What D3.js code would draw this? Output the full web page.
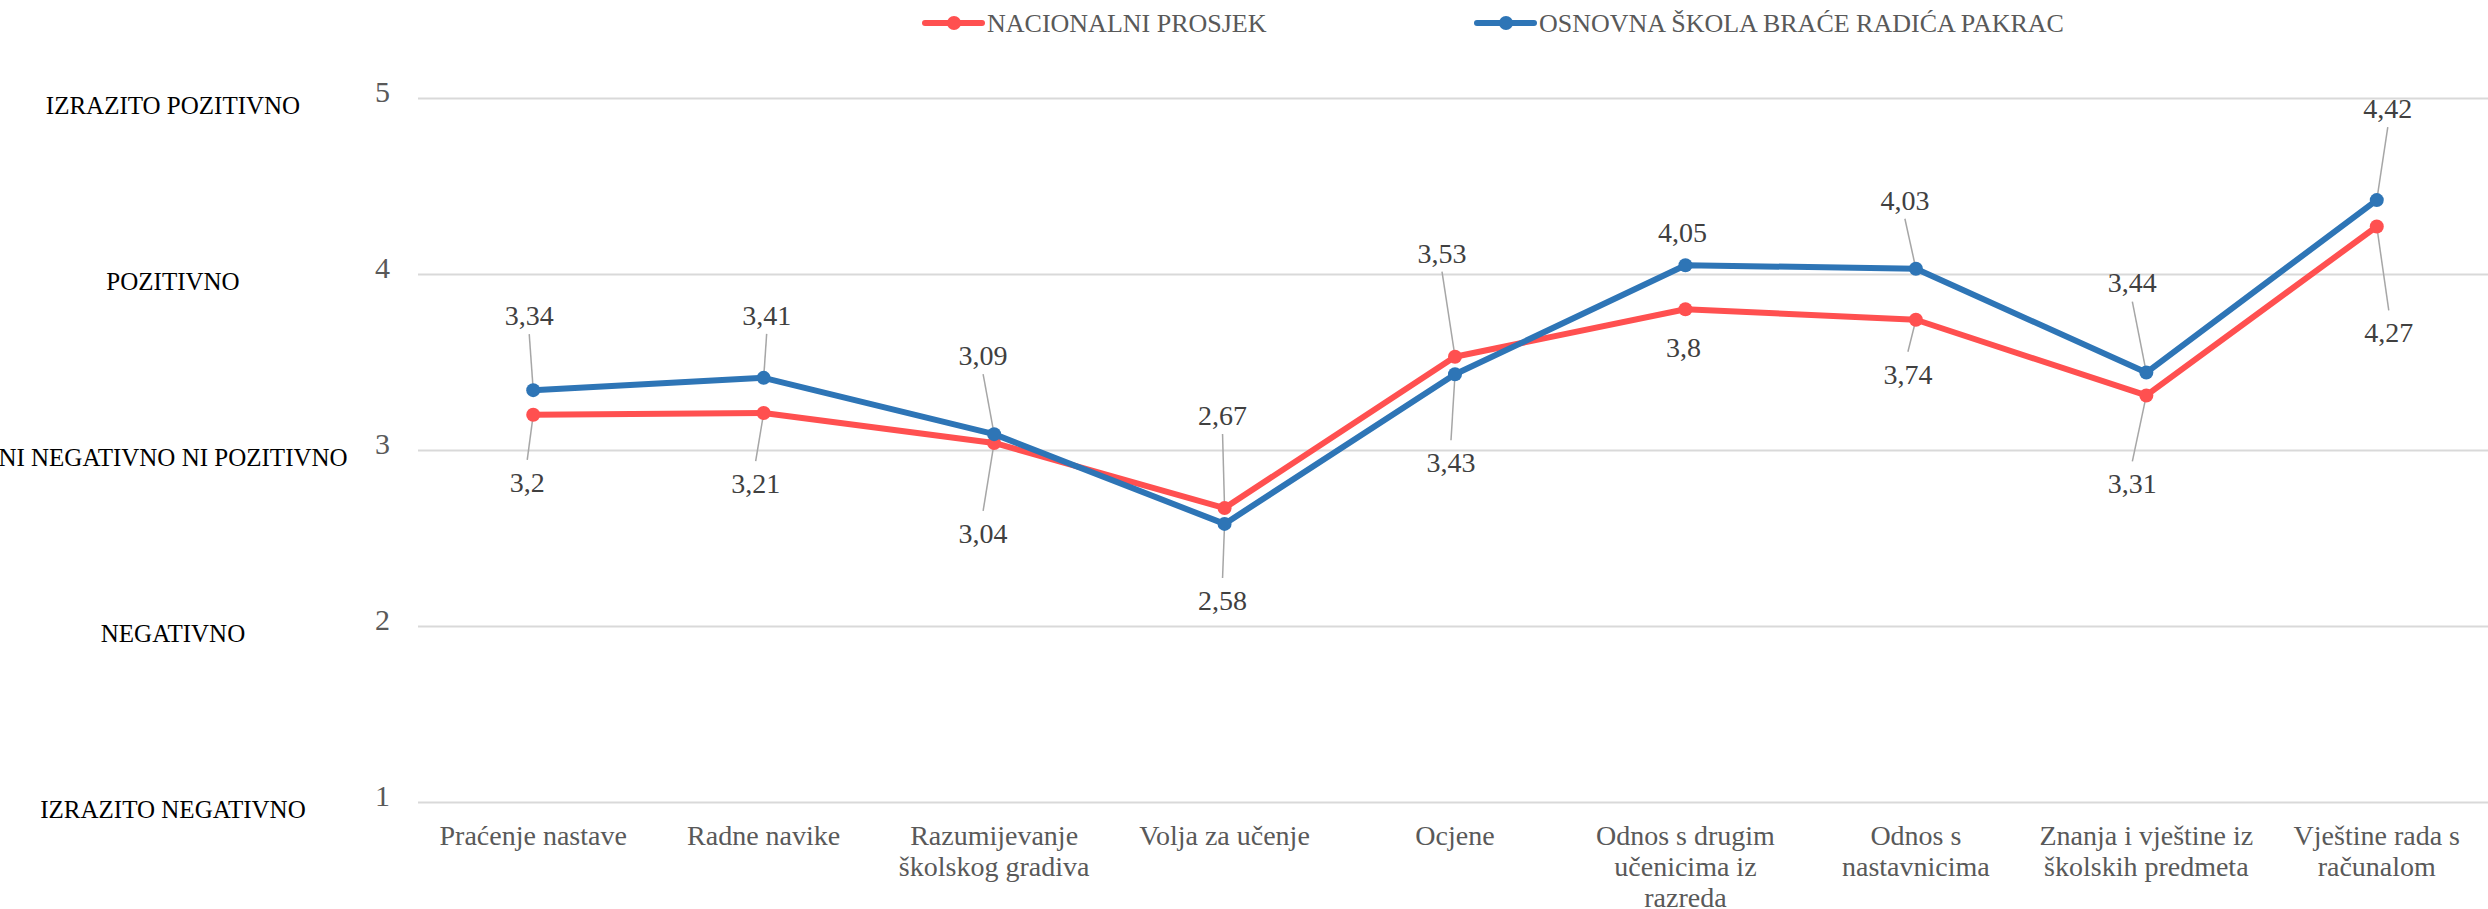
<!DOCTYPE html>
<html>
<head>
<meta charset="utf-8">
<script src="https://cdn.jsdelivr.net/npm/d3@7"></script>
<style>
  body { margin: 0; background: #fff; }
  svg { display: block; font-family: "Liberation Serif", "DejaVu Serif", serif; }
</style>
</head>
<body>
<svg id="chart"></svg>
<script>
// categories (already wrapped the way the original shows them)
const categories = [
  'Praćenje nastave', 'Radne navike', 'Razumijevanje školskog gradiva', 'Volja za učenje',
  'Ocjene', 'Odnos s drugim učenicima iz razreda', 'Odnos s nastavnicima',
  'Znanja i vještine iz školskih predmeta', 'Vještine rada s računalom'
]
const categoryLines = [
  ['Praćenje nastave'], ['Radne navike'], ['Razumijevanje', 'školskog gradiva'], ['Volja za učenje'],
  ['Ocjene'], ['Odnos s drugim', 'učenicima iz', 'razreda'], ['Odnos s', 'nastavnicima'],
  ['Znanja i vještine iz', 'školskih predmeta'], ['Vještine rada s', 'računalom']
]

const nacionalni = [3.2, 3.21, 3.04, 2.67, 3.53, 3.8, 3.74, 3.31, 4.27]
const skola = [3.34, 3.41, 3.09, 2.58, 3.43, 4.05, 4.03, 3.44, 4.42]

const seriesNames = ['NACIONALNI PROSJEK', 'OSNOVNA ŠKOLA BRAĆE RADIĆA PAKRAC']

const yTicks = [1, 2, 3, 4, 5]
const scaleLabels = ['IZRAZITO NEGATIVNO', 'NEGATIVNO', 'NI NEGATIVNO NI POZITIVNO', 'POZITIVNO', 'IZRAZITO POZITIVNO']

// where each data label sits relative to its point (px), like excel's dragged labels
const labelOffsetNac = [[-6, 67], [-8, 70], [-11, 90], [-2, -93], [-13, -104], [-2, 38], [-8, 54], [-14, 88], [12, 106]]
const labelOffsetSkola = [[-4, -75], [3, -63], [-11, -79], [-2, 76], [-4, 88], [-3, -33], [-11, -69], [-14, -90], [11, -92]]

const W = 2488, H = 909
const plotLeft = 418, plotRight = 2492, plotTop = 98, plotBottom = 802

const colors = ['#FF5050', '#2E75B6']

let svg = d3.select('#chart').attr('width', W).attr('height', H)

let x = d3.scalePoint().domain(categories).range([plotLeft, plotRight]).padding(0.5)
let y = d3.scaleLinear().domain([1, 5]).range([plotBottom, plotTop])

// gridlines + numbers
let yAxis = svg.append('g')
  .attr('transform', `translate(${plotLeft},0)`)
  .call(d3.axisLeft(y).tickValues(yTicks).tickSize(-(plotRight - plotLeft)).tickPadding(28).tickFormat(d3.format('d')))
yAxis.select('.domain').remove()
yAxis.selectAll('.tick line').attr('stroke', '#D9D9D9').attr('stroke-width', 2)
yAxis.selectAll('.tick text')
  .attr('fill', '#595959')
  .style('font-size', '30px')
  .style('font-family', '"Liberation Serif", serif')
  .attr('dy', '0.1em')

// scale names on the far left
svg.append('g').selectAll('text')
  .data(yTicks)
  .enter()
  .append('text')
  .attr('x', 173)
  .attr('y', d => y(d) + 7)
  .attr('dy', '0.35em')
  .attr('text-anchor', 'middle')
  .attr('fill', '#000')
  .style('font-size', '25px')
  .text((d, i) => scaleLabels[i])

// category labels under the plot
let catG = svg.append('g')
categories.forEach((c, i) => {
  let t = catG.append('text')
    .attr('x', x(c))
    .attr('y', 835)
    .attr('text-anchor', 'middle')
    .attr('fill', '#595959')
    .style('font-size', '28px')
  categoryLines[i].forEach((line, j) => {
    t.append('tspan')
      .attr('x', x(c))
      .attr('dy', j === 0 ? '0.35em' : 31)
      .text(line)
  })
})

let series = [
  { name: seriesNames[0], values: nacionalni, offs: labelOffsetNac, color: colors[0] },
  { name: seriesNames[1], values: skola, offs: labelOffsetSkola, color: colors[1] }
]

let fmt = v => String(v).replace('.', ',')

// leader lines first so the markers cover their ends
let leaderG = svg.append('g')
series.forEach(s => {
  s.values.forEach((v, i) => {
    let [dx, dy] = s.offs[i]
    if (Math.abs(dy) < 45) return
    let px = x(categories[i]), py = y(v)
    let lx = px + dx, ly = py + dy
    leaderG.append('line')
      .attr('x1', lx).attr('y1', ly + (dy < 0 ? 19 : -22))
      .attr('x2', px).attr('y2', py)
      .attr('stroke', '#A6A6A6')
      .attr('stroke-width', 1.5)
  })
})

let line = d3.line().x((d, i) => x(categories[i])).y(d => y(d))

series.forEach(s => {
  svg.append('path')
    .datum(s.values)
    .attr('d', line)
    .attr('fill', 'none')
    .attr('stroke', s.color)
    .attr('stroke-width', 6)
    .attr('stroke-linejoin', 'round')
    .attr('stroke-linecap', 'round')

  svg.append('g').selectAll('circle')
    .data(s.values)
    .enter()
    .append('circle')
    .attr('cx', (d, i) => x(categories[i]))
    .attr('cy', d => y(d))
    .attr('r', 7)
    .attr('fill', s.color)
})

// data labels
series.forEach(s => {
  svg.append('g').selectAll('text')
    .data(s.values)
    .enter()
    .append('text')
    .attr('x', (d, i) => x(categories[i]) + s.offs[i][0])
    .attr('y', (d, i) => y(d) + s.offs[i][1])
    .attr('dy', '0.35em')
    .attr('text-anchor', 'middle')
    .attr('fill', '#404040')
    .style('font-size', '28px')
    .text(d => fmt(d))
})

// legend
let legend = svg.append('g').attr('transform', 'translate(925,23)')
series.forEach((s, i) => {
  let g = legend.append('g').attr('transform', `translate(${i * 552},0)`)
  g.append('line').attr('x1', 0).attr('x2', 57).attr('y1', 0).attr('y2', 0)
    .attr('stroke', s.color).attr('stroke-width', 6).attr('stroke-linecap', 'round')
  g.append('circle').attr('cx', 29).attr('cy', 0).attr('r', 7).attr('fill', s.color)
  g.append('text').attr('x', 62).attr('y', 0).attr('dy', '0.35em')
    .attr('fill', '#595959').style('font-size', '26px').text(s.name)
})
</script>
</body>
</html>
